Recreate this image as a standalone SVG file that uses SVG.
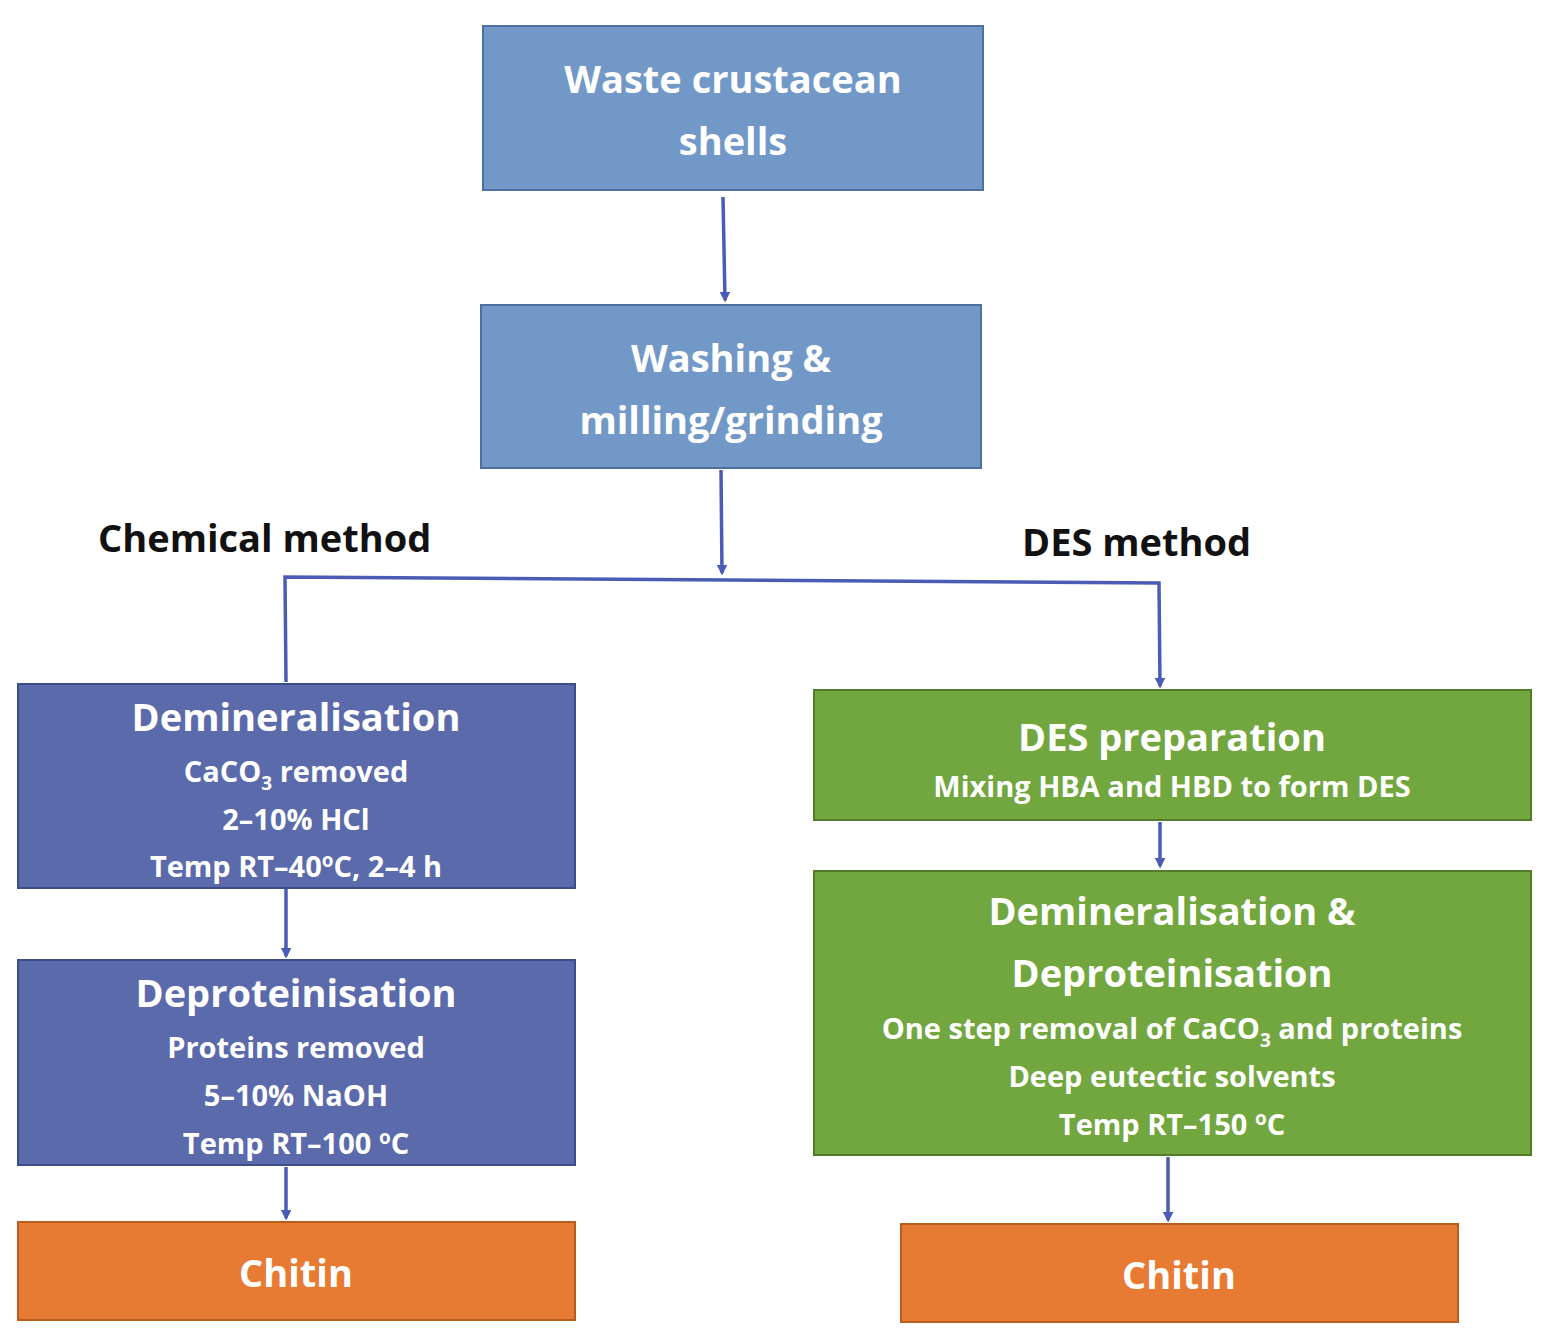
<svg xmlns="http://www.w3.org/2000/svg" width="1552" height="1339" viewBox="0 0 1552 1339">
<defs>
<style>
.t{font-family:"Open Sans","Noto Sans",sans-serif;font-weight:bold;fill:#fff;text-anchor:middle}
.big{font-size:38px}.sm{font-size:29px}
.lab{font-family:"Open Sans","Noto Sans",sans-serif;font-weight:bold;font-size:38px;fill:#111}
.lb{fill:#7198c7;stroke:#4f6f9c;stroke-width:2}
.db{fill:#5a6aaa;stroke:#3c4d8c;stroke-width:2}
.gr{fill:#72a73f;stroke:#527c2a;stroke-width:2}
.or{fill:#e87b34;stroke:#b85c20;stroke-width:2}
.c{fill:none;stroke:#4a5cb5;stroke-width:3.5}
</style>
<marker id="ah" markerWidth="10" markerHeight="10" refX="8" refY="5" orient="auto" markerUnits="userSpaceOnUse"><path d="M0,0 L10,5 L0,10 z" fill="#4a5cb5" transform="scale(1.4) translate(-2.5,-1.5)"/></marker>
</defs>
<rect width="1552" height="1339" fill="#fff"/>
<g id="connectors">
<path class="c" d="M723,197 L725,300" marker-end="url(#ah)"/>
<path class="c" d="M721,470 L722,573" marker-end="url(#ah)"/>
<path class="c" d="M286,682 L285,577 L1159,583 L1160,686" marker-end="url(#ah)"/>
<path class="c" d="M286,888 L286,956" marker-end="url(#ah)"/>
<path class="c" d="M286,1167 L286,1218" marker-end="url(#ah)"/>
<path class="c" d="M1160,822 L1160,866" marker-end="url(#ah)"/>
<path class="c" d="M1168,1157 L1168,1220" marker-end="url(#ah)"/>
</g>
<g id="waste"><rect class="lb" x="483" y="26" width="500" height="164"/>
<text class="t big" x="733" y="93">Waste crustacean</text><text class="t big" x="733" y="155">shells</text></g>
<g id="washing"><rect class="lb" x="481" y="305" width="500" height="163"/>
<text class="t big" x="731" y="372">Washing &amp;</text><text class="t big" x="731" y="434">milling/grinding</text></g>
<text class="lab" x="98" y="552">Chemical method</text>
<text class="lab" x="1022" y="556">DES method</text>
<g id="demin"><rect class="db" x="18" y="684" width="557" height="204"/>
<text class="t big" x="296" y="731">Demineralisation</text>
<text class="t sm" x="296" y="782">CaCO<tspan font-size="19" dy="8">3</tspan><tspan dy="-8"> removed</tspan></text>
<text class="t sm" x="296" y="830">2–10% HCl</text>
<text class="t sm" x="296" y="877">Temp RT–40<tspan font-size="19" dy="-10">o</tspan><tspan dy="10">C, 2–4 h</tspan></text></g>
<g id="deprot"><rect class="db" x="18" y="960" width="557" height="205"/>
<text class="t big" x="296" y="1007">Deproteinisation</text>
<text class="t sm" x="296" y="1058">Proteins removed</text>
<text class="t sm" x="296" y="1106">5–10% NaOH</text>
<text class="t sm" x="296" y="1154">Temp RT–100 <tspan font-size="19" dy="-10">o</tspan><tspan dy="10">C</tspan></text></g>
<g id="chitin1"><rect class="or" x="18" y="1222" width="557" height="98"/>
<text class="t big" x="296" y="1287">Chitin</text></g>
<g id="desprep"><rect class="gr" x="814" y="690" width="717" height="130"/>
<text class="t big" x="1172" y="751">DES preparation</text>
<text class="t sm" x="1172" y="797">Mixing HBA and HBD to form DES</text></g>
<g id="desdd"><rect class="gr" x="814" y="871" width="717" height="284"/>
<text class="t big" x="1172" y="925">Demineralisation &amp;</text>
<text class="t big" x="1172" y="987">Deproteinisation</text>
<text class="t sm" x="1172" y="1039">One step removal of CaCO<tspan font-size="19" dy="8">3</tspan><tspan dy="-8"> and proteins</tspan></text>
<text class="t sm" x="1172" y="1087">Deep eutectic solvents</text>
<text class="t sm" x="1172" y="1135">Temp RT–150 <tspan font-size="19" dy="-10">o</tspan><tspan dy="10">C</tspan></text></g>
<g id="chitin2"><rect class="or" x="901" y="1224" width="557" height="98"/>
<text class="t big" x="1179" y="1289">Chitin</text></g>
</svg>
